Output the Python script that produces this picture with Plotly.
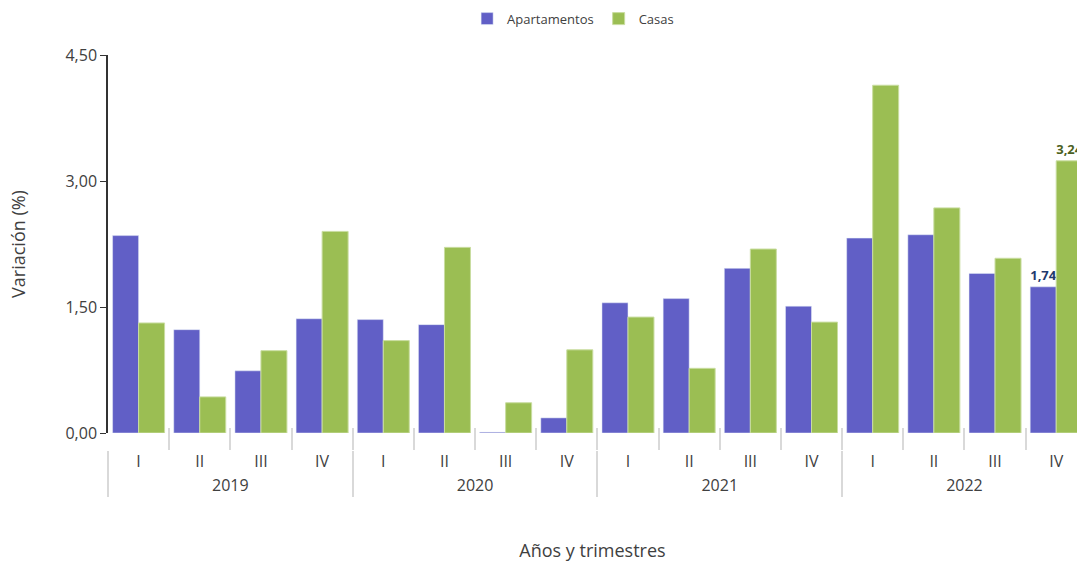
import plotly.graph_objects as go

years = ["2019", "2020", "2021", "2022"]
quarters = ["I", "II", "III", "IV"]
apartamentos = [2.35, 1.23, 0.74, 1.36, 1.35, 1.29, 0.01, 0.18,
                1.55, 1.60, 1.96, 1.51, 2.32, 2.36, 1.90, 1.74]
casas = [1.31, 0.43, 0.98, 2.40, 1.10, 2.21, 0.36, 0.99,
         1.38, 0.77, 2.19, 1.32, 4.14, 2.68, 2.08, 3.24]
apt_labels = [""] * 15 + ["1,74"]
casas_labels = [""] * 15 + ["3,24"]

x_years = [y for y in years for _ in quarters]
x_quarters = [q for _ in years for q in quarters]
x = [x_years, x_quarters]

FONT = "Open Sans"
fig = go.Figure()
fig.add_trace(go.Bar(
    x=x, y=apartamentos, name="Apartamentos",
    marker=dict(color="#615FC6"),
    text=apt_labels, textposition="outside",
    textfont=dict(family=FONT, size=14, color="#1F3A6E", weight="bold"),
    cliponaxis=True,
))
fig.add_trace(go.Bar(
    x=x, y=casas, name="Casas",
    marker=dict(color="#9BBE53", line=dict(color="#C9DDA0", width=1)),
    text=casas_labels, textposition="outside",
    textfont=dict(family=FONT, size=14, color="#4B5F22", weight="bold"),
    cliponaxis=True,
))

fig.update_layout(
    width=1077, height=562,
    margin=dict(l=108, r=0, t=55, b=112),
    paper_bgcolor="white", plot_bgcolor="white",
    barmode="group", bargap=0.15, bargroupgap=0,
    separators=",.",
    font=dict(family=FONT, size=16, color="#404040"),
    showlegend=True,
    legend=dict(orientation="h", x=0.48, xanchor="center", y=1.092, yanchor="middle",
                font=dict(size=13, color="#404040"), itemwidth=30, traceorder="normal"),
)
fig.update_yaxes(
    domain=[17 / 395, 1],
    range=[0, 4.5], tickvals=[0, 1.5, 3, 4.5], tickformat=".2f",
    showgrid=False, zeroline=False,
    showline=True, linecolor="#333333", linewidth=1.5,
    ticks="outside", ticklen=6, tickcolor="#333333",
    tickfont=dict(size=16, color="#404040"),
    title=dict(text="Variación (%)", font=dict(size=18, color="#404040"), standoff=35),
)
fig.update_xaxes(
    type="multicategory", range=[-0.5, 15.34],
    anchor="free", position=0,
    showgrid=False, zeroline=False, showline=False,
    ticks="inside", ticklen=22, tickcolor="#D9D9D9", tickwidth=1.5,
    showdividers=True, dividercolor="#D9D9D9", dividerwidth=1.5,
    tickfont=dict(size=16, color="#404040"),
    title=dict(text="Años y trimestres", font=dict(size=18, color="#404040"), standoff=49),
)

fig.write_html("out.html", config={"displayModeBar": False},
               post_script="document.body.style.margin='0';document.body.style.overflow='hidden';")
